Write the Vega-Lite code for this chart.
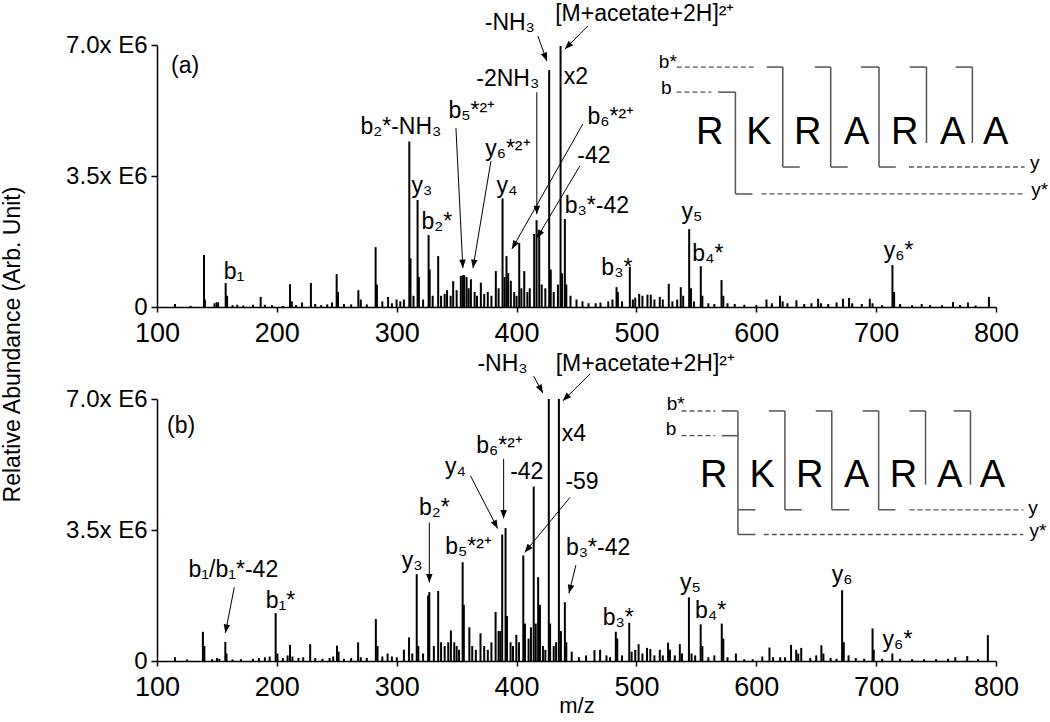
{
  "$schema": "https://vega.github.io/schema/vega-lite/v6.json",
  "padding": {"left": 1, "top": 3, "right": 0, "bottom": 0},
  "bounds": "flush",
  "spacing": 92,
  "config": {
    "view": {"stroke": null},
    "font": "Liberation Sans",
    "axis": {"grid": false, "domainColor": "black", "tickColor": "black", "labelColor": "black", "titleColor": "black", "domainWidth": 1.5, "tickWidth": 1.5, "labelFont": "Liberation Sans", "titleFont": "Liberation Sans", "titleFontWeight": "normal", "labelFlush": false, "labelOverlap": false}
  },
  "datasets": {
    "peaks": [
      {"panel":"a","mz":115,"intensity":0.08},{"panel":"a","mz":128,"intensity":0.03},{"panel":"a","mz":139.2,"intensity":1.39},{"panel":"a","mz":140,"intensity":0.2},{"panel":"a","mz":148,"intensity":0.1},{"panel":"a","mz":149.8,"intensity":0.13},{"panel":"a","mz":151,"intensity":0.12},{"panel":"a","mz":157.3,"intensity":0.64},{"panel":"a","mz":158.5,"intensity":0.3},{"panel":"a","mz":163,"intensity":0.05},{"panel":"a","mz":167,"intensity":0.06},{"panel":"a","mz":172,"intensity":0.04},{"panel":"a","mz":180,"intensity":0.06},{"panel":"a","mz":186.5,"intensity":0.27},{"panel":"a","mz":190,"intensity":0.06},{"panel":"a","mz":196,"intensity":0.05},{"panel":"a","mz":205,"intensity":0.03},{"panel":"a","mz":211,"intensity":0.61},{"panel":"a","mz":212.5,"intensity":0.15},{"panel":"a","mz":216,"intensity":0.05},{"panel":"a","mz":221,"intensity":0.12},{"panel":"a","mz":228.4,"intensity":0.64},{"panel":"a","mz":232,"intensity":0.08},{"panel":"a","mz":237,"intensity":0.05},{"panel":"a","mz":242,"intensity":0.07},{"panel":"a","mz":246,"intensity":0.12},{"panel":"a","mz":249.9,"intensity":0.88},{"panel":"a","mz":251,"intensity":0.4},{"panel":"a","mz":256,"intensity":0.08},{"panel":"a","mz":262,"intensity":0.07},{"panel":"a","mz":268,"intensity":0.45},{"panel":"a","mz":270,"intensity":0.2},{"panel":"a","mz":275,"intensity":0.07},{"panel":"a","mz":282.4,"intensity":1.6},{"panel":"a","mz":283.5,"intensity":0.6},{"panel":"a","mz":288,"intensity":0.15},{"panel":"a","mz":292.8,"intensity":0.27},{"panel":"a","mz":296,"intensity":0.1},{"panel":"a","mz":299.9,"intensity":0.2},{"panel":"a","mz":303,"intensity":0.15},{"panel":"a","mz":306,"intensity":0.2},{"panel":"a","mz":310.5,"intensity":4.42},{"panel":"a","mz":311.5,"intensity":1.3},{"panel":"a","mz":314,"intensity":0.3},{"panel":"a","mz":317.4,"intensity":2.86},{"panel":"a","mz":318.5,"intensity":0.8},{"panel":"a","mz":322,"intensity":0.2},{"panel":"a","mz":326.6,"intensity":1.92},{"panel":"a","mz":327.5,"intensity":1.0},{"panel":"a","mz":330,"intensity":0.3},{"panel":"a","mz":334.6,"intensity":1.36},{"panel":"a","mz":337,"intensity":0.3},{"panel":"a","mz":340,"intensity":0.35},{"panel":"a","mz":342,"intensity":0.45},{"panel":"a","mz":345,"intensity":0.3},{"panel":"a","mz":347.1,"intensity":0.69},{"panel":"a","mz":350,"intensity":0.45},{"panel":"a","mz":353.5,"intensity":0.83},{"panel":"a","mz":355.2,"intensity":0.85},{"panel":"a","mz":356.3,"intensity":0.85},{"panel":"a","mz":358.3,"intensity":0.8},{"panel":"a","mz":360,"intensity":0.5},{"panel":"a","mz":361.9,"intensity":0.74},{"panel":"a","mz":365,"intensity":0.4},{"panel":"a","mz":367,"intensity":0.3},{"panel":"a","mz":370.2,"intensity":0.65},{"panel":"a","mz":373,"intensity":0.35},{"panel":"a","mz":376,"intensity":0.4},{"panel":"a","mz":379,"intensity":0.3},{"panel":"a","mz":382.7,"intensity":0.96},{"panel":"a","mz":385,"intensity":0.5},{"panel":"a","mz":388.3,"intensity":2.9},{"panel":"a","mz":390,"intensity":0.8},{"panel":"a","mz":391.6,"intensity":1.36},{"panel":"a","mz":393,"intensity":0.9},{"panel":"a","mz":395.2,"intensity":0.7},{"panel":"a","mz":398,"intensity":0.4},{"panel":"a","mz":400,"intensity":0.3},{"panel":"a","mz":402.2,"intensity":1.71},{"panel":"a","mz":404,"intensity":0.5},{"panel":"a","mz":406.4,"intensity":0.96},{"panel":"a","mz":409,"intensity":0.4},{"panel":"a","mz":411,"intensity":0.5},{"panel":"a","mz":414.7,"intensity":1.95},{"panel":"a","mz":416.7,"intensity":2.32},{"panel":"a","mz":418.9,"intensity":2.03},{"panel":"a","mz":421,"intensity":0.6},{"panel":"a","mz":424,"intensity":0.5},{"panel":"a","mz":427.2,"intensity":6.33},{"panel":"a","mz":428.5,"intensity":1.0},{"panel":"a","mz":431,"intensity":0.4},{"panel":"a","mz":434.5,"intensity":0.6},{"panel":"a","mz":436.7,"intensity":6.97},{"panel":"a","mz":438,"intensity":0.9},{"panel":"a","mz":440.3,"intensity":2.35},{"panel":"a","mz":441.5,"intensity":0.6},{"panel":"a","mz":445,"intensity":0.3},{"panel":"a","mz":450,"intensity":0.2},{"panel":"a","mz":455,"intensity":0.15},{"panel":"a","mz":460,"intensity":0.1},{"panel":"a","mz":466,"intensity":0.1},{"panel":"a","mz":470,"intensity":0.12},{"panel":"a","mz":476.5,"intensity":0.15},{"panel":"a","mz":480,"intensity":0.2},{"panel":"a","mz":483.4,"intensity":0.53},{"panel":"a","mz":484.5,"intensity":0.4},{"panel":"a","mz":488,"intensity":0.15},{"panel":"a","mz":494.5,"intensity":1.07},{"panel":"a","mz":497,"intensity":0.2},{"panel":"a","mz":499,"intensity":0.25},{"panel":"a","mz":502.3,"intensity":0.35},{"panel":"a","mz":505,"intensity":0.3},{"panel":"a","mz":509.2,"intensity":0.33},{"panel":"a","mz":512,"intensity":0.33},{"panel":"a","mz":515,"intensity":0.2},{"panel":"a","mz":519.5,"intensity":0.27},{"panel":"a","mz":522,"intensity":0.2},{"panel":"a","mz":527,"intensity":0.62},{"panel":"a","mz":530,"intensity":0.15},{"panel":"a","mz":534,"intensity":0.2},{"panel":"a","mz":537,"intensity":0.53},{"panel":"a","mz":539,"intensity":0.3},{"panel":"a","mz":544,"intensity":2.08},{"panel":"a","mz":545.5,"intensity":0.5},{"panel":"a","mz":548,"intensity":0.15},{"panel":"a","mz":553.7,"intensity":1.09},{"panel":"a","mz":555,"intensity":0.3},{"panel":"a","mz":560,"intensity":0.1},{"panel":"a","mz":565,"intensity":0.08},{"panel":"a","mz":571,"intensity":0.72},{"panel":"a","mz":572.5,"intensity":0.3},{"panel":"a","mz":576,"intensity":0.1},{"panel":"a","mz":582,"intensity":0.08},{"panel":"a","mz":590,"intensity":0.06},{"panel":"a","mz":600,"intensity":0.05},{"panel":"a","mz":608.5,"intensity":0.2},{"panel":"a","mz":613,"intensity":0.1},{"panel":"a","mz":619.8,"intensity":0.3},{"panel":"a","mz":622,"intensity":0.15},{"panel":"a","mz":626,"intensity":0.1},{"panel":"a","mz":633.5,"intensity":0.18},{"panel":"a","mz":640,"intensity":0.08},{"panel":"a","mz":646,"intensity":0.1},{"panel":"a","mz":651.6,"intensity":0.22},{"panel":"a","mz":654,"intensity":0.1},{"panel":"a","mz":660,"intensity":0.08},{"panel":"a","mz":667,"intensity":0.12},{"panel":"a","mz":672.4,"intensity":0.22},{"panel":"a","mz":677.4,"intensity":0.24},{"panel":"a","mz":680,"intensity":0.1},{"panel":"a","mz":688,"intensity":0.08},{"panel":"a","mz":694.7,"intensity":0.22},{"panel":"a","mz":697,"intensity":0.1},{"panel":"a","mz":705,"intensity":0.05},{"panel":"a","mz":713.6,"intensity":1.12},{"panel":"a","mz":715,"intensity":0.4},{"panel":"a","mz":720,"intensity":0.08},{"panel":"a","mz":730,"intensity":0.05},{"panel":"a","mz":738,"intensity":0.08},{"panel":"a","mz":745,"intensity":0.05},{"panel":"a","mz":755,"intensity":0.05},{"panel":"a","mz":764.1,"intensity":0.13},{"panel":"a","mz":770,"intensity":0.05},{"panel":"a","mz":776.6,"intensity":0.12},{"panel":"a","mz":783,"intensity":0.04},{"panel":"a","mz":794.1,"intensity":0.27},
      {"panel":"b","mz":115,"intensity":0.1},{"panel":"b","mz":125,"intensity":0.04},{"panel":"b","mz":138.3,"intensity":0.78},{"panel":"b","mz":139.5,"intensity":0.4},{"panel":"b","mz":146,"intensity":0.05},{"panel":"b","mz":150,"intensity":0.08},{"panel":"b","mz":152,"intensity":0.06},{"panel":"b","mz":157,"intensity":0.51},{"panel":"b","mz":158,"intensity":0.2},{"panel":"b","mz":163,"intensity":0.04},{"panel":"b","mz":170,"intensity":0.05},{"panel":"b","mz":180,"intensity":0.06},{"panel":"b","mz":185,"intensity":0.08},{"panel":"b","mz":190,"intensity":0.1},{"panel":"b","mz":194,"intensity":0.12},{"panel":"b","mz":199,"intensity":1.28},{"panel":"b","mz":200.5,"intensity":0.2},{"panel":"b","mz":205,"intensity":0.08},{"panel":"b","mz":209,"intensity":0.15},{"panel":"b","mz":211,"intensity":0.43},{"panel":"b","mz":213,"intensity":0.12},{"panel":"b","mz":218,"intensity":0.08},{"panel":"b","mz":222,"intensity":0.1},{"panel":"b","mz":227.8,"intensity":0.45},{"panel":"b","mz":232,"intensity":0.08},{"panel":"b","mz":238,"intensity":0.06},{"panel":"b","mz":244,"intensity":0.08},{"panel":"b","mz":247,"intensity":0.12},{"panel":"b","mz":250.2,"intensity":0.41},{"panel":"b","mz":251.5,"intensity":0.25},{"panel":"b","mz":256,"intensity":0.06},{"panel":"b","mz":262,"intensity":0.08},{"panel":"b","mz":267.8,"intensity":0.5},{"panel":"b","mz":270,"intensity":0.1},{"panel":"b","mz":275,"intensity":0.08},{"panel":"b","mz":282.6,"intensity":1.12},{"panel":"b","mz":284,"intensity":0.4},{"panel":"b","mz":288,"intensity":0.12},{"panel":"b","mz":292.4,"intensity":0.2},{"panel":"b","mz":296,"intensity":0.12},{"panel":"b","mz":300,"intensity":0.1},{"panel":"b","mz":306,"intensity":0.3},{"panel":"b","mz":310.3,"intensity":0.63},{"panel":"b","mz":313,"intensity":0.2},{"panel":"b","mz":316.7,"intensity":2.32},{"panel":"b","mz":318,"intensity":0.4},{"panel":"b","mz":322,"intensity":0.2},{"panel":"b","mz":326.2,"intensity":1.75},{"panel":"b","mz":327.2,"intensity":1.84},{"panel":"b","mz":331,"intensity":0.4},{"panel":"b","mz":334.6,"intensity":1.87},{"panel":"b","mz":337,"intensity":0.5},{"panel":"b","mz":340,"intensity":0.4},{"panel":"b","mz":343,"intensity":0.5},{"panel":"b","mz":345.2,"intensity":0.82},{"panel":"b","mz":348,"intensity":0.5},{"panel":"b","mz":350,"intensity":0.4},{"panel":"b","mz":352,"intensity":0.3},{"panel":"b","mz":355,"intensity":2.64},{"panel":"b","mz":356,"intensity":1.5},{"panel":"b","mz":360.6,"intensity":0.9},{"panel":"b","mz":363,"intensity":0.4},{"panel":"b","mz":366,"intensity":0.3},{"panel":"b","mz":369.9,"intensity":0.74},{"panel":"b","mz":373,"intensity":0.4},{"panel":"b","mz":376,"intensity":0.3},{"panel":"b","mz":379,"intensity":0.5},{"panel":"b","mz":382.5,"intensity":1.31},{"panel":"b","mz":385,"intensity":0.8},{"panel":"b","mz":386.5,"intensity":0.8},{"panel":"b","mz":388,"intensity":3.38},{"panel":"b","mz":390.8,"intensity":3.55},{"panel":"b","mz":392,"intensity":1.2},{"panel":"b","mz":395,"intensity":0.5},{"panel":"b","mz":397,"intensity":0.4},{"panel":"b","mz":399.8,"intensity":0.7},{"panel":"b","mz":402,"intensity":0.5},{"panel":"b","mz":405.6,"intensity":2.82},{"panel":"b","mz":407,"intensity":1.0},{"panel":"b","mz":410,"intensity":0.6},{"panel":"b","mz":412,"intensity":0.9},{"panel":"b","mz":414.3,"intensity":4.66},{"panel":"b","mz":416,"intensity":1.0},{"panel":"b","mz":418,"intensity":2.24},{"panel":"b","mz":419.5,"intensity":1.5},{"panel":"b","mz":422,"intensity":0.4},{"panel":"b","mz":424,"intensity":0.3},{"panel":"b","mz":426.9,"intensity":7.0},{"panel":"b","mz":428,"intensity":1.0},{"panel":"b","mz":431,"intensity":0.4},{"panel":"b","mz":433,"intensity":0.5},{"panel":"b","mz":435.3,"intensity":7.0},{"panel":"b","mz":437,"intensity":0.8},{"panel":"b","mz":440.3,"intensity":1.57},{"panel":"b","mz":441.5,"intensity":0.5},{"panel":"b","mz":446,"intensity":0.25},{"panel":"b","mz":452,"intensity":0.1},{"panel":"b","mz":458,"intensity":0.15},{"panel":"b","mz":465,"intensity":0.29},{"panel":"b","mz":469.7,"intensity":0.3},{"panel":"b","mz":475,"intensity":0.15},{"panel":"b","mz":478,"intensity":0.1},{"panel":"b","mz":482.8,"intensity":0.78},{"panel":"b","mz":484,"intensity":0.6},{"panel":"b","mz":488,"intensity":0.15},{"panel":"b","mz":494,"intensity":1.02},{"panel":"b","mz":496,"intensity":0.25},{"panel":"b","mz":499,"intensity":0.3},{"panel":"b","mz":501.8,"intensity":0.45},{"panel":"b","mz":505,"intensity":0.2},{"panel":"b","mz":508.8,"intensity":0.35},{"panel":"b","mz":511.6,"intensity":0.32},{"panel":"b","mz":515,"intensity":0.15},{"panel":"b","mz":519.5,"intensity":0.3},{"panel":"b","mz":522,"intensity":0.15},{"panel":"b","mz":526.4,"intensity":0.49},{"panel":"b","mz":528,"intensity":0.3},{"panel":"b","mz":532,"intensity":0.15},{"panel":"b","mz":536.2,"intensity":0.45},{"panel":"b","mz":538,"intensity":0.2},{"panel":"b","mz":543.8,"intensity":1.7},{"panel":"b","mz":546,"intensity":0.2},{"panel":"b","mz":549,"intensity":0.15},{"panel":"b","mz":553.6,"intensity":0.98},{"panel":"b","mz":555,"intensity":0.4},{"panel":"b","mz":560,"intensity":0.1},{"panel":"b","mz":565,"intensity":0.15},{"panel":"b","mz":571.2,"intensity":1.0},{"panel":"b","mz":572.5,"intensity":0.6},{"panel":"b","mz":576,"intensity":0.1},{"panel":"b","mz":583,"intensity":0.2},{"panel":"b","mz":590,"intensity":0.05},{"panel":"b","mz":597,"intensity":0.05},{"panel":"b","mz":605,"intensity":0.12},{"panel":"b","mz":611,"intensity":0.36},{"panel":"b","mz":614,"intensity":0.1},{"panel":"b","mz":620,"intensity":0.1},{"panel":"b","mz":624,"intensity":0.1},{"panel":"b","mz":629,"intensity":0.43},{"panel":"b","mz":633.3,"intensity":0.3},{"panel":"b","mz":635,"intensity":0.2},{"panel":"b","mz":637.5,"intensity":0.35},{"panel":"b","mz":645,"intensity":0.08},{"panel":"b","mz":650,"intensity":0.15},{"panel":"b","mz":654.3,"intensity":0.42},{"panel":"b","mz":656,"intensity":0.2},{"panel":"b","mz":662,"intensity":0.08},{"panel":"b","mz":667,"intensity":0.06},{"panel":"b","mz":671.6,"intensity":1.89},{"panel":"b","mz":673,"intensity":0.5},{"panel":"b","mz":677,"intensity":0.15},{"panel":"b","mz":683,"intensity":0.08},{"panel":"b","mz":690,"intensity":0.06},{"panel":"b","mz":697,"intensity":0.87},{"panel":"b","mz":698,"intensity":0.3},{"panel":"b","mz":705,"intensity":0.06},{"panel":"b","mz":713.5,"intensity":0.2},{"panel":"b","mz":720,"intensity":0.06},{"panel":"b","mz":730,"intensity":0.05},{"panel":"b","mz":740,"intensity":0.05},{"panel":"b","mz":750,"intensity":0.05},{"panel":"b","mz":760,"intensity":0.06},{"panel":"b","mz":766,"intensity":0.1},{"panel":"b","mz":776,"intensity":0.13},{"panel":"b","mz":785,"intensity":0.05},{"panel":"b","mz":793.2,"intensity":0.69}
    ],
    "labels": [
      {"panel":"a","label":"(a)","mz":123.4,"intensity":6.25},
      {"panel":"a","label":"b₁","mz":164.2,"intensity":0.75},
      {"panel":"a","label":"b₂*-NH₃","mz":303.5,"intensity":4.62},
      {"panel":"a","label":"y₃","mz":321,"intensity":3.05},
      {"panel":"a","label":"b₂*","mz":333.5,"intensity":2.08},
      {"panel":"a","label":"b₅*²⁺","mz":362.7,"intensity":5.05},
      {"panel":"a","label":"y₆*²⁺","mz":392.7,"intensity":4.03},
      {"panel":"a","label":"y₄","mz":391.9,"intensity":3.05},
      {"panel":"a","label":"-NH₃","mz":394.4,"intensity":7.4},
      {"panel":"a","label":"-2NH₃","mz":392.7,"intensity":5.9},
      {"panel":"a","label":"[M+acetate+2H]²⁺","mz":507,"intensity":7.64},
      {"panel":"a","label":"x2","mz":449.5,"intensity":5.96},
      {"panel":"a","label":"b₆*²⁺","mz":478.6,"intensity":4.89},
      {"panel":"a","label":"-42","mz":464.5,"intensity":3.85},
      {"panel":"a","label":"b₃*-42","mz":467,"intensity":2.51},
      {"panel":"a","label":"b₃*","mz":483.7,"intensity":0.85},
      {"panel":"a","label":"y₅","mz":546.2,"intensity":2.35},
      {"panel":"a","label":"b₄*","mz":559.6,"intensity":1.23},
      {"panel":"a","label":"y₆*","mz":718.8,"intensity":1.31},
      {"panel":"b","label":"(b)","mz":120.1,"intensity":6.1},
      {"panel":"b","label":"b₁/b₁*-42","mz":163.7,"intensity":2.24},
      {"panel":"b","label":"b₁*","mz":203.1,"intensity":1.41},
      {"panel":"b","label":"y₃","mz":312.9,"intensity":2.48},
      {"panel":"b","label":"b₂*","mz":331.4,"intensity":3.89},
      {"panel":"b","label":"b₅*²⁺","mz":359.9,"intensity":2.87},
      {"panel":"b","label":"y₄","mz":349,"intensity":5.0},
      {"panel":"b","label":"b₆*²⁺","mz":385.8,"intensity":5.56},
      {"panel":"b","label":"-42","mz":408.5,"intensity":4.87},
      {"panel":"b","label":"-NH₃","mz":388.3,"intensity":7.75},
      {"panel":"b","label":"[M+acetate+2H]²⁺","mz":507.4,"intensity":7.75},
      {"panel":"b","label":"x4","mz":447.9,"intensity":5.88},
      {"panel":"b","label":"-59","mz":454.6,"intensity":4.6},
      {"panel":"b","label":"b₃*-42","mz":468,"intensity":2.82},
      {"panel":"b","label":"b₃*","mz":484.8,"intensity":0.96},
      {"panel":"b","label":"y₅","mz":545.1,"intensity":1.89},
      {"panel":"b","label":"b₄*","mz":561.9,"intensity":1.14},
      {"panel":"b","label":"y₆","mz":671.7,"intensity":2.1},
      {"panel":"b","label":"y₆*","mz":717.8,"intensity":0.37}
    ],
    "arrows": [
      {"panel":"a","mz0":417.8,"intensity0":7.24,"mz":425.3,"intensity":6.57,"angle":160},
      {"panel":"a","mz0":459.5,"intensity0":7.51,"mz":440.3,"intensity":6.89,"angle":225},
      {"panel":"a","mz0":416.9,"intensity0":5.74,"mz":416.9,"intensity":2.48,"angle":180},
      {"panel":"a","mz0":349.4,"intensity0":4.78,"mz":355.2,"intensity":1.04,"angle":177},
      {"panel":"a","mz0":378.6,"intensity0":3.9,"mz":363.6,"intensity":1.04,"angle":189.5},
      {"panel":"a","mz0":455.3,"intensity0":4.89,"mz":396.1,"intensity":1.55,"angle":209.6},
      {"panel":"a","mz0":452.8,"intensity0":3.77,"mz":416.9,"intensity":1.84,"angle":210.8},
      {"panel":"b","mz0":414.3,"intensity0":7.61,"mz":421.9,"intensity":7.16,"angle":152},
      {"panel":"b","mz0":461.3,"intensity0":7.67,"mz":438.6,"intensity":6.95,"angle":225},
      {"panel":"b","mz0":389.2,"intensity0":5.4,"mz":389.2,"intensity":3.81,"angle":180},
      {"panel":"b","mz0":361.5,"intensity0":4.95,"mz":384.2,"intensity":3.54,"angle":153},
      {"panel":"b","mz0":444.5,"intensity0":4.37,"mz":406.8,"intensity":2.9,"angle":219},
      {"panel":"b","mz0":327.2,"intensity0":3.7,"mz":327.2,"intensity":2.1,"angle":180},
      {"panel":"b","mz0":449.5,"intensity0":2.56,"mz":443.7,"intensity":1.81,"angle":194},
      {"panel":"b","mz0":164.5,"intensity0":1.97,"mz":157,"intensity":0.75,"angle":191}
    ],
    "diagram": [
      {"panel":"a","kind":"solid","mz":608.7,"intensity":6.41,"mz2":622.1,"intensity2":6.41},
      {"panel":"a","kind":"solid","mz":622.1,"intensity":6.41,"mz2":622.1,"intensity2":3.74},
      {"panel":"a","kind":"solid","mz":622.1,"intensity":3.74,"mz2":636.3,"intensity2":3.74},
      {"panel":"a","kind":"solid","mz":648.8,"intensity":6.41,"mz2":662.1,"intensity2":6.41},
      {"panel":"a","kind":"solid","mz":662.1,"intensity":6.41,"mz2":662.1,"intensity2":3.74},
      {"panel":"a","kind":"solid","mz":662.1,"intensity":3.74,"mz2":676.3,"intensity2":3.74},
      {"panel":"a","kind":"solid","mz":687.2,"intensity":6.41,"mz2":702.4,"intensity2":6.41},
      {"panel":"a","kind":"solid","mz":702.4,"intensity":6.41,"mz2":702.4,"intensity2":3.74},
      {"panel":"a","kind":"solid","mz":702.4,"intensity":3.74,"mz2":716.4,"intensity2":3.74},
      {"panel":"a","kind":"solid","mz":728,"intensity":6.41,"mz2":742,"intensity2":6.41},
      {"panel":"a","kind":"solid","mz":742,"intensity":6.41,"mz2":742,"intensity2":4.38},
      {"panel":"a","kind":"solid","mz":766.4,"intensity":6.41,"mz2":780.3,"intensity2":6.41},
      {"panel":"a","kind":"solid","mz":780.3,"intensity":6.41,"mz2":780.3,"intensity2":4.38},
      {"panel":"a","kind":"solid","mz":568.1,"intensity":5.74,"mz2":582.6,"intensity2":5.74},
      {"panel":"a","kind":"solid","mz":582.6,"intensity":5.74,"mz2":582.6,"intensity2":3.02},
      {"panel":"a","kind":"solid","mz":582.6,"intensity":3.02,"mz2":596.8,"intensity2":3.02},
      {"panel":"a","kind":"dashed","mz":533.7,"intensity":6.41,"mz2":598.7,"intensity2":6.41},
      {"panel":"a","kind":"dashed","mz":533.4,"intensity":5.74,"mz2":562.6,"intensity2":5.74},
      {"panel":"a","kind":"dashed","mz":727.4,"intensity":3.74,"mz2":823.9,"intensity2":3.74},
      {"panel":"a","kind":"dashed","mz":604.3,"intensity":3.02,"mz2":822.5,"intensity2":3.02},
      {"panel":"b","kind":"solid","mz":571.1,"intensity":6.68,"mz2":584.7,"intensity2":6.68},
      {"panel":"b","kind":"solid","mz":571.1,"intensity":6.02,"mz2":584.7,"intensity2":6.02},
      {"panel":"b","kind":"solid","mz":584.7,"intensity":6.68,"mz2":584.7,"intensity2":3.38},
      {"panel":"b","kind":"solid","mz":584.7,"intensity":4.04,"mz2":599.3,"intensity2":4.04},
      {"panel":"b","kind":"solid","mz":584.7,"intensity":3.38,"mz2":599.3,"intensity2":3.38},
      {"panel":"b","kind":"solid","mz":610.5,"intensity":6.68,"mz2":623.9,"intensity2":6.68},
      {"panel":"b","kind":"solid","mz":623.9,"intensity":6.68,"mz2":623.9,"intensity2":4.04},
      {"panel":"b","kind":"solid","mz":623.9,"intensity":4.04,"mz2":637.9,"intensity2":4.04},
      {"panel":"b","kind":"solid","mz":649.6,"intensity":6.68,"mz2":663,"intensity2":6.68},
      {"panel":"b","kind":"solid","mz":663,"intensity":6.68,"mz2":663,"intensity2":4.04},
      {"panel":"b","kind":"solid","mz":663,"intensity":4.04,"mz2":677.5,"intensity2":4.04},
      {"panel":"b","kind":"solid","mz":688.7,"intensity":6.68,"mz2":702.1,"intensity2":6.68},
      {"panel":"b","kind":"solid","mz":702.1,"intensity":6.68,"mz2":702.1,"intensity2":4.04},
      {"panel":"b","kind":"solid","mz":702.1,"intensity":4.04,"mz2":716.1,"intensity2":4.04},
      {"panel":"b","kind":"solid","mz":727.8,"intensity":6.68,"mz2":741.2,"intensity2":6.68},
      {"panel":"b","kind":"solid","mz":741.2,"intensity":6.68,"mz2":741.2,"intensity2":4.71},
      {"panel":"b","kind":"solid","mz":764.7,"intensity":6.68,"mz2":778.7,"intensity2":6.68},
      {"panel":"b","kind":"solid","mz":778.7,"intensity":6.68,"mz2":778.7,"intensity2":4.71},
      {"panel":"b","kind":"dashed","mz":537.6,"intensity":6.68,"mz2":565.8,"intensity2":6.68},
      {"panel":"b","kind":"dashed","mz":537.6,"intensity":6.02,"mz2":565.8,"intensity2":6.02},
      {"panel":"b","kind":"dashed","mz":727.8,"intensity":4.04,"mz2":822.8,"intensity2":4.04},
      {"panel":"b","kind":"dashed","mz":606.3,"intensity":3.38,"mz2":822.8,"intensity2":3.38}
    ],
    "residues": [
      {"panel":"a","residue":"R","mz":561.2,"intensity":4.36},{"panel":"a","residue":"K","mz":602.1,"intensity":4.36},{"panel":"a","residue":"R","mz":643,"intensity":4.36},{"panel":"a","residue":"A","mz":683.8,"intensity":4.36},{"panel":"a","residue":"R","mz":723.8,"intensity":4.36},{"panel":"a","residue":"A","mz":763.9,"intensity":4.36},{"panel":"a","residue":"A","mz":799.7,"intensity":4.36},
      {"panel":"b","residue":"R","mz":564.4,"intensity":4.64},{"panel":"b","residue":"K","mz":604.9,"intensity":4.64},{"panel":"b","residue":"R","mz":644.6,"intensity":4.64},{"panel":"b","residue":"A","mz":683.7,"intensity":4.64},{"panel":"b","residue":"R","mz":722.8,"intensity":4.64},{"panel":"b","residue":"A","mz":761.4,"intensity":4.64},{"panel":"b","residue":"A","mz":797.1,"intensity":4.64}
    ],
    "ions": [
      {"panel":"a","ion":"b*","mz":526.2,"intensity":6.38},{"panel":"a","ion":"b","mz":525,"intensity":5.69},{"panel":"a","ion":"y","mz":832.3,"intensity":3.69},{"panel":"a","ion":"y*","mz":836.4,"intensity":2.97},
      {"panel":"b","ion":"b*","mz":532.8,"intensity":6.71},{"panel":"b","ion":"b","mz":528.9,"intensity":6.04},{"panel":"b","ion":"y","mz":830.9,"intensity":3.94},{"panel":"b","ion":"y*","mz":835.1,"intensity":3.3}
    ]
  },
  "vconcat": [
    {
      "width": 839, "height": 262,
      "encoding": {
        "x": {"field": "mz", "type": "quantitative", "scale": {"domain": [100, 800], "nice": false, "zero": false},
              "axis": {"title": null, "values": [100,200,300,400,500,600,700,800], "format": "d", "labelFontSize": 27, "tickSize": 5, "labelPadding": 8}},
        "y": {"field": "intensity", "type": "quantitative", "scale": {"domain": [0, 7], "nice": false, "zero": false},
              "axis": {"title": "Relative Abundance (Arb. Unit)", "titleFontSize": 23, "titleX": -145, "titleY": 299, "titleAngle": -90, "titleAlign": "center", "titleBaseline": "middle",
                       "values": [0, 3.5, 7], "labelExpr": "datum.value === 0 ? '0' : format(datum.value, '.1f') + 'x E6'", "labelFontSize": 24, "tickSize": 6, "labelPadding": 4}}
      },
      "layer": [
        {"data": {"name": "peaks"}, "transform": [{"filter": "datum.panel === 'a'"}], "mark": {"type": "rule", "color": "black", "strokeWidth": 2}, "encoding": {"y2": {"datum": 0}}},
        {"data": {"name": "diagram"}, "transform": [{"filter": "datum.panel === 'a' && datum.kind === 'solid'"}], "mark": {"type": "rule", "color": "#555555", "strokeWidth": 1.5}, "encoding": {"x2": {"field": "mz2"}, "y2": {"field": "intensity2"}}},
        {"data": {"name": "diagram"}, "transform": [{"filter": "datum.panel === 'a' && datum.kind === 'dashed'"}], "mark": {"type": "rule", "color": "#555555", "strokeWidth": 1.3, "strokeDash": [5, 3]}, "encoding": {"x2": {"field": "mz2"}, "y2": {"field": "intensity2"}}},
        {"data": {"name": "arrows"}, "transform": [{"filter": "datum.panel === 'a'"}], "mark": {"type": "rule", "color": "black", "strokeWidth": 1}, "encoding": {"x2": {"field": "mz0"}, "y2": {"field": "intensity0"}}},
        {"data": {"name": "arrows"}, "transform": [{"filter": "datum.panel === 'a'"}], "mark": {"type": "point", "shape": "M0,0L-0.5,1.3L0.5,1.3Z", "filled": true, "color": "black", "opacity": 1, "size": 170}, "encoding": {"angle": {"field": "angle", "type": "quantitative", "scale": null}}},
        {"data": {"name": "labels"}, "transform": [{"filter": "datum.panel === 'a'"}], "mark": {"type": "text", "fontSize": 23, "align": "center", "baseline": "alphabetic", "color": "black"}, "encoding": {"text": {"field": "label"}}},
        {"data": {"name": "residues"}, "transform": [{"filter": "datum.panel === 'a'"}], "mark": {"type": "text", "fontSize": 38, "align": "center", "baseline": "alphabetic", "color": "black"}, "encoding": {"text": {"field": "residue"}}},
        {"data": {"name": "ions"}, "transform": [{"filter": "datum.panel === 'a'"}], "mark": {"type": "text", "fontSize": 19, "align": "center", "baseline": "alphabetic", "color": "black"}, "encoding": {"text": {"field": "ion"}}}
      ]
    },
    {
      "width": 839, "height": 262,
      "encoding": {
        "x": {"field": "mz", "type": "quantitative", "scale": {"domain": [100, 800], "nice": false, "zero": false},
              "axis": {"title": "m/z", "titleFontSize": 22, "titlePadding": -5, "values": [100,200,300,400,500,600,700,800], "format": "d", "labelFontSize": 27, "tickSize": 5, "labelPadding": 8}},
        "y": {"field": "intensity", "type": "quantitative", "scale": {"domain": [0, 7], "nice": false, "zero": false},
              "axis": {"title": null, "values": [0, 3.5, 7], "labelExpr": "datum.value === 0 ? '0' : format(datum.value, '.1f') + 'x E6'", "labelFontSize": 24, "tickSize": 6, "labelPadding": 4}}
      },
      "layer": [
        {"data": {"name": "peaks"}, "transform": [{"filter": "datum.panel === 'b'"}], "mark": {"type": "rule", "color": "black", "strokeWidth": 2}, "encoding": {"y2": {"datum": 0}}},
        {"data": {"name": "diagram"}, "transform": [{"filter": "datum.panel === 'b' && datum.kind === 'solid'"}], "mark": {"type": "rule", "color": "#555555", "strokeWidth": 1.5}, "encoding": {"x2": {"field": "mz2"}, "y2": {"field": "intensity2"}}},
        {"data": {"name": "diagram"}, "transform": [{"filter": "datum.panel === 'b' && datum.kind === 'dashed'"}], "mark": {"type": "rule", "color": "#555555", "strokeWidth": 1.3, "strokeDash": [5, 3]}, "encoding": {"x2": {"field": "mz2"}, "y2": {"field": "intensity2"}}},
        {"data": {"name": "arrows"}, "transform": [{"filter": "datum.panel === 'b'"}], "mark": {"type": "rule", "color": "black", "strokeWidth": 1}, "encoding": {"x2": {"field": "mz0"}, "y2": {"field": "intensity0"}}},
        {"data": {"name": "arrows"}, "transform": [{"filter": "datum.panel === 'b'"}], "mark": {"type": "point", "shape": "M0,0L-0.5,1.3L0.5,1.3Z", "filled": true, "color": "black", "opacity": 1, "size": 170}, "encoding": {"angle": {"field": "angle", "type": "quantitative", "scale": null}}},
        {"data": {"name": "labels"}, "transform": [{"filter": "datum.panel === 'b'"}], "mark": {"type": "text", "fontSize": 23, "align": "center", "baseline": "alphabetic", "color": "black"}, "encoding": {"text": {"field": "label"}}},
        {"data": {"name": "residues"}, "transform": [{"filter": "datum.panel === 'b'"}], "mark": {"type": "text", "fontSize": 38, "align": "center", "baseline": "alphabetic", "color": "black"}, "encoding": {"text": {"field": "residue"}}},
        {"data": {"name": "ions"}, "transform": [{"filter": "datum.panel === 'b'"}], "mark": {"type": "text", "fontSize": 19, "align": "center", "baseline": "alphabetic", "color": "black"}, "encoding": {"text": {"field": "ion"}}}
      ]
    }
  ]
}
